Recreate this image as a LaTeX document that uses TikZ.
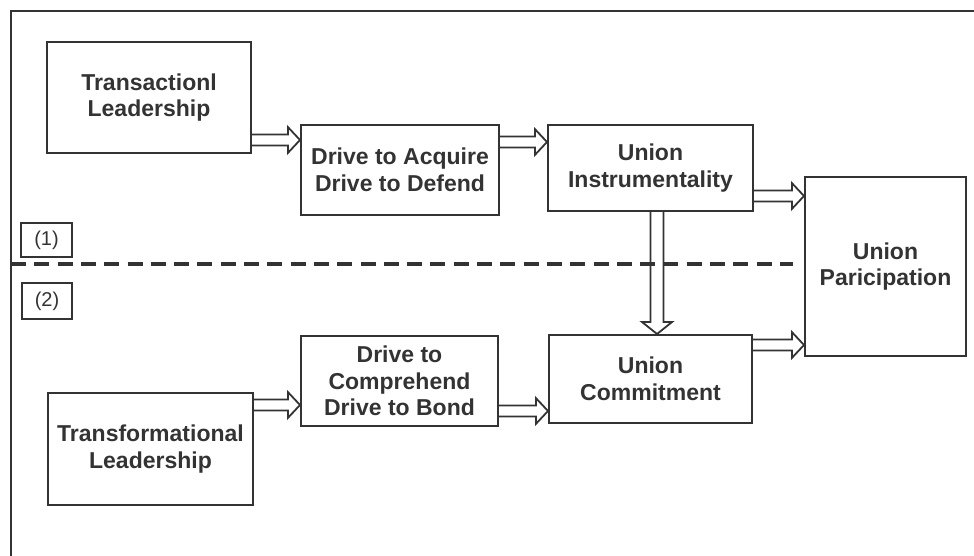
\documentclass[tikz,border=0pt]{standalone}
\usepackage{fontspec}
\setmainfont{Liberation Sans}
\usetikzlibrary{calc}
\definecolor{ink}{HTML}{333333}
\begin{document}
\begin{tikzpicture}[x=1pt,y=-1pt,
  box/.style={draw=ink, line width=2pt, text=ink, align=center, inner sep=2pt,
    font=\bfseries\fontsize{23}{26.5}\selectfont},
  numbox/.style={draw=ink, line width=1.6pt, text=ink, inner sep=0pt,
    font=\fontsize{20}{22}\selectfont},
  fatR/.style={draw=ink, line width=1.8pt, to path={let \p1=(\tikztostart), \p2=(\tikztotarget) in
    (\x1,\y1+5.5pt) -- (\x2-12pt,\y1+5.5pt) -- (\x2-12pt,\y1+12.8pt) -- (\x2,\y1)
    -- (\x2-12pt,\y1-12.8pt) -- (\x2-12pt,\y1-5.5pt) -- (\x1,\y1-5.5pt)}},
  fatD/.style={draw=ink, line width=1.8pt, to path={let \p1=(\tikztostart), \p2=(\tikztotarget) in
    (\x1-6.5pt,\y1) -- (\x1-6.5pt,\y2+12pt) -- (\x1-15pt,\y2+12pt) -- (\x1,\y2)
    -- (\x1+15pt,\y2+12pt) -- (\x1+6.5pt,\y2+12pt) -- (\x1+6.5pt,\y1)}}
]
\useasboundingbox (0,0) rectangle (974,556);
% frame
\coordinate (fbl) at (11,556);
\coordinate (ftl) at (11,11);
\coordinate (ftr) at (974,11);
\draw[ink, line width=2pt] (fbl) -- (ftl) -- (ftr);

% boxes
\node[box, minimum width=204pt, minimum height=111pt] (T1) at (149,97.5) {Transactionl\\Leadership};
\node[box, minimum width=198pt, minimum height=90pt] (DA) at (400,170) {Drive to Acquire\\Drive to Defend};
\node[box, minimum width=205pt, minimum height=86pt] (UI) at (650.5,168) {Union\\Instrumentality};
\node[box, minimum width=161pt, minimum height=179pt] (UP) at (885.5,266.5) {Union\\Paricipation};
\node[box, minimum width=203pt, minimum height=88pt] (UC) at (650.5,379) {Union\\Commitment};
\node[box, minimum width=197pt, minimum height=90pt] (DC) at (399.5,381) {Drive to\\Comprehend\\Drive to Bond};
\node[box, minimum width=205pt, minimum height=112pt] (T2) at (150.5,449) {Transformational\\Leadership};

\node[numbox, minimum width=51pt, minimum height=34pt] (N1) at (46.5,240) {(1)};
\node[numbox, minimum width=50pt, minimum height=36pt] (N2) at (47,301) {(2)};

% dashed divider
\coordinate (dL) at (11,264);
\coordinate (dR) at (793,264);
\draw[ink, line width=4.5pt, dash pattern=on 15pt off 8.3pt] (dL) -- (dR);

% arrows
\path[fatR] (T1.east |- 0,140) to (DA.west |- 0,140);
\path[fatR] (DA.east |- 0,142) to (UI.west |- 0,142);
\path[fatR] (UI.east |- 0,196) to (UP.west |- 0,196);
\path[fatD] (UI.south -| 657,0) to (UC.north -| 657,0);
\path[fatR] (UC.east |- 0,345) to (UP.west |- 0,345);
\path[fatR] (T2.east |- 0,405) to (DC.west |- 0,405);
\path[fatR] (DC.east |- 0,411) to (UC.west |- 0,411);
\end{tikzpicture}
\end{document}
